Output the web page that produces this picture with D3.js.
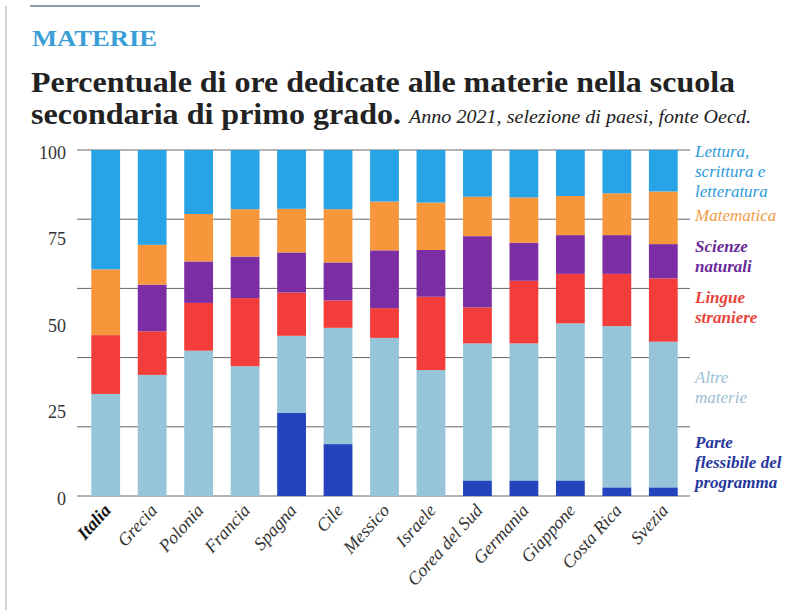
<!DOCTYPE html>
<html>
<head>
<meta charset="utf-8">
<script src="https://cdn.jsdelivr.net/npm/d3@7"></script>
<style>
  body { margin: 0; background: #fff; }
  svg { display: block; }
</style>
</head>
<body>
<svg width="808" height="610"></svg>
<script>
var paesi = ['Italia', 'Grecia', 'Polonia', 'Francia', 'Spagna', 'Cile', 'Messico',
  'Israele', 'Corea del Sud', 'Germania', 'Giappone', 'Costa Rica', 'Svezia'];

// segment values, bottom to top
var flessibile = [0, 0, 0, 0, 24, 15, 0, 0, 4.5, 4.5, 4.5, 2.5, 2.5];
var altre      = [29.5, 35, 42, 37.5, 22.3, 33.6, 45.7, 36.4, 39.6, 39.6, 45.4, 46.6, 42.1];
var lingue     = [17, 12.6, 13.8, 19.7, 12.5, 7.9, 8.6, 21.2, 10.4, 18.1, 14.3, 15.1, 18.3];
var scienze    = [0, 13.5, 12, 12, 11.6, 11, 16.7, 13.5, 20.6, 11, 11.2, 11.2, 9.9];
var matematica = [19, 11.5, 13.7, 13.7, 12.6, 15.4, 14.1, 13.7, 11.4, 13.1, 11.3, 12.1, 15.2];
var lettura    = [34.5, 27.4, 18.5, 17.1, 17, 17.1, 14.9, 15.2, 13.5, 13.7, 13.3, 12.5, 12];

var tickLabels = [0, 25, 50, 75, 100];
var gridValues = [0, 20, 40, 60, 80, 100];

var keys = ['flessibile', 'altre', 'lingue', 'scienze', 'matematica', 'lettura'];
var colors = {
  flessibile: '#2444bd',
  altre: '#96c5da',
  lingue: '#f23d3a',
  scienze: '#7b2ea4',
  matematica: '#f8963c',
  lettura: '#28a3e6'
};

var legend = [
  { key: 'lettura',    lines: ['Lettura,', 'scrittura e', 'letteratura'], y: 157, color: '#2b9bd9', weight: 'normal' },
  { key: 'matematica', lines: ['Matematica'], y: 221, color: '#f19c45', weight: 'normal' },
  { key: 'scienze',    lines: ['Scienze', 'naturali'], y: 252, color: '#6a2a96', weight: 'bold' },
  { key: 'lingue',     lines: ['Lingue', 'straniere'], y: 303, color: '#e8453d', weight: 'bold' },
  { key: 'altre',      lines: ['Altre', 'materie'], y: 383, color: '#9cc0d2', weight: 'normal' },
  { key: 'flessibile', lines: ['Parte', 'flessibile del', 'programma'], y: 448, color: '#27389c', weight: 'bold' }
];

var table = paesi.map(function(p, i){
  return {
    paese: p,
    flessibile: flessibile[i],
    altre: altre[i],
    lingue: lingue[i],
    scienze: scienze[i],
    matematica: matematica[i],
    lettura: lettura[i]
  };
});

var svg = d3.select('svg');
var serif = '"Liberation Serif", "DejaVu Serif", serif';

// page edge lines
svg.append('line')
  .attr('x1', 6).attr('x2', 6).attr('y1', 6).attr('y2', 610)
  .style('stroke', '#c8c8c8').style('stroke-width', 1.5);
svg.append('line')
  .attr('x1', 30).attr('x2', 200).attr('y1', 6).attr('y2', 6)
  .style('stroke', '#8a9aa6').style('stroke-width', 2);

// headings
svg.append('text')
  .attr('x', 32).attr('y', 46)
  .attr('textLength', 125).attr('lengthAdjust', 'spacingAndGlyphs')
  .style('font-family', serif).style('font-weight', 'bold')
  .style('font-size', '24px')
  .style('fill', '#3a9fd6')
  .text('MATERIE');

svg.append('text')
  .attr('x', 31).attr('y', 92)
  .attr('textLength', 704).attr('lengthAdjust', 'spacingAndGlyphs')
  .style('font-family', serif).style('font-weight', 'bold')
  .style('font-size', '30px').style('fill', '#222')
  .text('Percentuale di ore dedicate alle materie nella scuola');

svg.append('text')
  .attr('x', 31).attr('y', 124)
  .attr('textLength', 370).attr('lengthAdjust', 'spacingAndGlyphs')
  .style('font-family', serif).style('font-weight', 'bold')
  .style('font-size', '30px').style('fill', '#222')
  .text('secondaria di primo grado.');

svg.append('text')
  .attr('x', 409).attr('y', 123)
  .attr('textLength', 342).attr('lengthAdjust', 'spacingAndGlyphs')
  .style('font-family', serif).style('font-style', 'italic')
  .style('font-size', '18px').style('fill', '#222')
  .text('Anno 2021, selezione di paesi, fonte Oecd.');

// scales
var x = d3.scaleBand()
  .domain(paesi)
  .range([82, 687])
  .paddingInner(0.38)
  .paddingOuter(0.2);

var y = d3.scaleLinear()
  .domain([0, 100])
  .range([496, 150]);

// gridlines behind bars
svg.append('g')
  .selectAll('line')
  .data(gridValues)
  .enter().append('line')
  .attr('x1', 77)
  .attr('x2', 690)
  .attr('y1', function(d){ return y(d); })
  .attr('y2', function(d){ return y(d); })
  .style('stroke', '#666')
  .style('stroke-width', 1);

// y labels (on 25 steps)
var yAxis = d3.axisLeft(y).tickValues(tickLabels).tickSize(0).tickPadding(0);
var gy = svg.append('g')
  .attr('transform', 'translate(66,0)')
  .call(yAxis);
gy.select('.domain').remove();
gy.selectAll('text')
  .attr('dy', '0.45em')
  .style('font-family', serif)
  .style('font-size', '18px')
  .style('fill', '#333');

// stacked bars
var series = d3.stack().keys(keys)(table);

svg.append('g')
  .selectAll('g')
  .data(series)
  .enter().append('g')
  .style('fill', function(s){ return colors[s.key]; })
  .selectAll('rect')
  .data(function(s){ return s; })
  .enter().append('rect')
  .attr('x', function(d){ return x(d.data.paese); })
  .attr('width', x.bandwidth())
  .attr('y', function(d){ return y(d[1]); })
  .attr('height', function(d){ return y(d[0]) - y(d[1]); });

// country labels
svg.append('g')
  .selectAll('text')
  .data(paesi)
  .enter().append('text')
  .attr('transform', function(d){
    return 'translate(' + (x(d) + x.bandwidth()/2 + 6) + ',' + 511 + ') rotate(-48)';
  })
  .attr('text-anchor', 'end')
  .style('font-family', serif)
  .style('font-style', 'italic')
  .style('font-weight', function(d){ return d === 'Italia' ? 'bold' : 'normal'; })
  .style('font-size', '18px')
  .style('fill', function(d){ return d === 'Italia' ? '#111' : '#333'; })
  .text(function(d){ return d; });

// legend on the right
var lg = svg.append('g')
  .selectAll('text')
  .data(legend)
  .enter().append('text')
  .attr('x', 695)
  .attr('y', function(d){ return d.y; })
  .style('font-family', serif)
  .style('font-style', 'italic')
  .style('font-weight', function(d){ return d.weight; })
  .style('font-size', '17px')
  .style('fill', function(d){ return d.color; });

lg.selectAll('tspan')
  .data(function(d){ return d.lines; })
  .enter().append('tspan')
  .attr('x', 695)
  .attr('dy', function(d, i){ return i === 0 ? 0 : 20; })
  .text(function(d){ return d; });
</script>
</body>
</html>
